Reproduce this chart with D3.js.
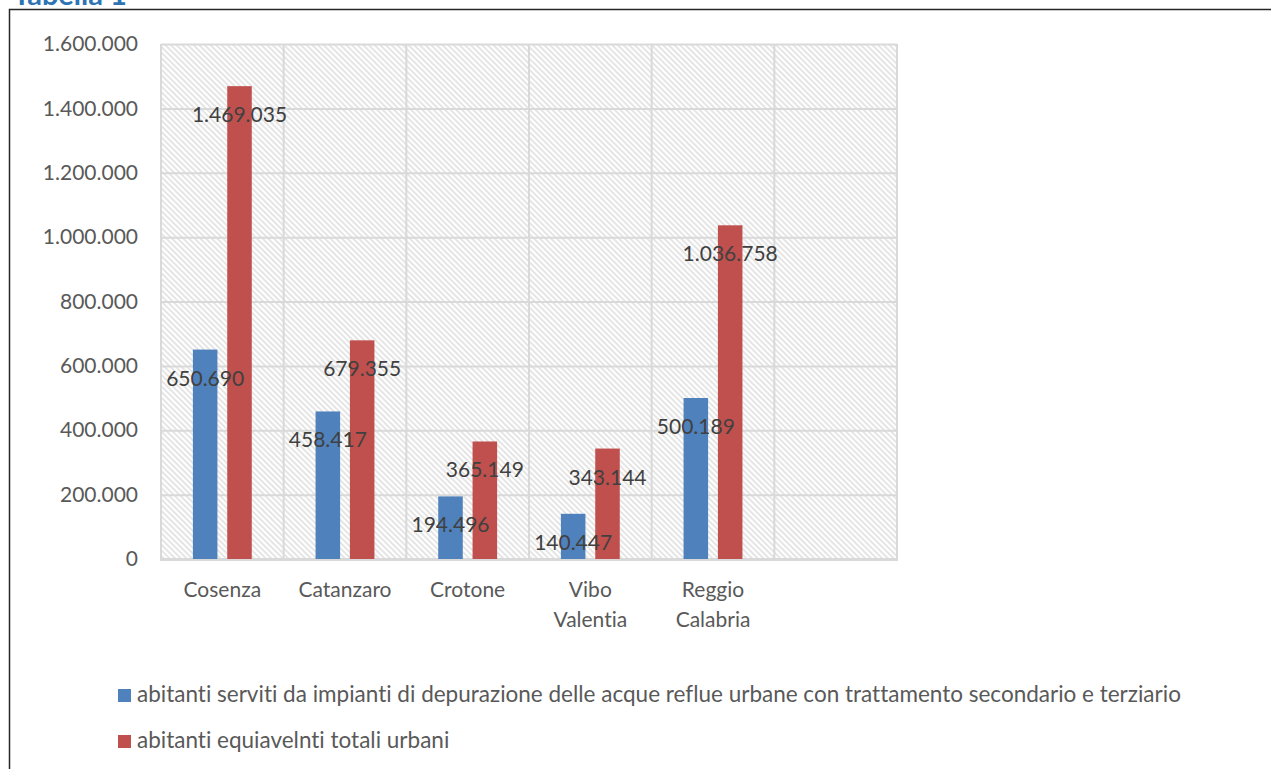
<!DOCTYPE html>
<html>
<head>
<meta charset="utf-8">
<script src="https://cdn.jsdelivr.net/npm/d3@7"></script>
<style>
  body { margin: 0; background: #fff; }
  text { font-family: Lato, "Open Sans", sans-serif; font-variant-ligatures: none; }
</style>
</head>
<body>
<div id="chart"></div>
<script>
// Data
const categories = ["Cosenza", "Catanzaro", "Crotone", "Vibo Valentia", "Reggio Calabria", ""];
const seriesNames = [
    "abitanti serviti da impianti di depurazione delle acque reflue urbane con trattamento secondario e terziario",
    "abitanti equiavelnti totali urbani"
];
const served = [650690, 458417, 194496, 140447, 500189, null];
const totals = [1469035, 679355, 365149, 343144, 1036758, null];
const yTicks = [0, 200000, 400000, 600000, 800000, 1000000, 1200000, 1400000, 1600000];

const W = 1271, H = 769;
const colors = ["#4F81BD", "#C0504D"];
const plot = { left: 161, right: 897, top: 44, bottom: 559 };

const it = d3.formatLocale({ decimal: ",", thousands: ".", grouping: [3], currency: ["", "€"] });
const fmt = it.format(",");

const svg = d3.select("#chart").append("svg")
    .attr("width", W)
    .attr("height", H);

// hatch pattern for the plot area
const defs = svg.append("defs");
defs.append("pattern")
    .attr("id", "hatch")
    .attr("patternUnits", "userSpaceOnUse")
    .attr("width", 4)
    .attr("height", 4)
    .attr("patternTransform", "rotate(-45)")
    .append("line")
    .attr("x1", 1).attr("y1", 0)
    .attr("x2", 1).attr("y2", 4)
    .attr("stroke", "#dcdcdc")
    .attr("stroke-width", 1.5);

// frame + title (cut off at the top, as in the source page)
svg.append("text")
    .attr("x", 13)
    .attr("y", 5)
    .attr("fill", "#2E74B5")
    .attr("font-weight", "bold")
    .attr("font-size", "29px")
    .text("Tabella 1");

svg.append("path")
    .attr("d", `M9.5,${H} V9.5 H${W}`)
    .attr("fill", "none")
    .attr("stroke", "#262626")
    .attr("stroke-width", 1.5);

// Scales
const x = d3.scaleBand()
    .domain(categories.map((d, i) => i))
    .range([plot.left, plot.right]);

const y = d3.scaleLinear()
    .domain([0, 1600000])
    .range([plot.bottom, plot.top]);

const barW = x.bandwidth() * 0.2;
const gap = x.bandwidth() * 0.08;
const groupW = barW * 2 + gap;
const inner = d3.scaleOrdinal()
    .domain([0, 1])
    .range([(x.bandwidth() - groupW) / 2, (x.bandwidth() - groupW) / 2 + barW + gap]);

// Plot background
svg.append("rect")
    .attr("x", plot.left)
    .attr("y", plot.top)
    .attr("width", plot.right - plot.left)
    .attr("height", plot.bottom - plot.top)
    .attr("fill", "url(#hatch)");

// Grid
svg.append("g")
    .attr("transform", `translate(${plot.left},0)`)
    .call(d3.axisLeft(y).tickValues(yTicks).tickSize(-(plot.right - plot.left)).tickFormat(""))
    .call(g => g.select(".domain").remove())
    .call(g => g.selectAll("line").attr("stroke", "#d9d9d9").attr("stroke-width", 2));

svg.append("g")
    .selectAll("line")
    .data(d3.range(categories.length + 1))
    .join("line")
    .attr("x1", i => i < categories.length ? x(i) : plot.right)
    .attr("x2", i => i < categories.length ? x(i) : plot.right)
    .attr("y1", plot.top)
    .attr("y2", plot.bottom)
    .attr("stroke", "#d9d9d9")
    .attr("stroke-width", 2);

// Y axis labels
svg.append("g")
    .attr("transform", `translate(${plot.left},0)`)
    .call(d3.axisLeft(y).tickValues(yTicks).tickSize(0).tickPadding(23).tickFormat(fmt))
    .call(g => g.select(".domain").remove())
    .call(g => g.selectAll("text")
        .attr("fill", "#595959")
        .attr("font-size", "21px")
        .attr("font-family", "Lato, sans-serif"));

// Bottom axis line
svg.append("line")
    .attr("x1", plot.left - 1)
    .attr("x2", plot.right + 1)
    .attr("y1", plot.bottom + 0.5)
    .attr("y2", plot.bottom + 0.5)
    .attr("stroke", "#d9d9d9")
    .attr("stroke-width", 3);

// Category labels
const catG = svg.append("g");
categories.forEach((c, i) => {
    const words = c.split(" ").filter(w => w);
    words.forEach((w, j) => {
        catG.append("text")
            .attr("x", x(i) + x.bandwidth() / 2)
            .attr("y", 597 + j * 30)
            .attr("text-anchor", "middle")
            .attr("fill", "#595959")
            .attr("font-size", "21px")
            .text(w);
    });
});

// Bars
const series = [served, totals];
series.forEach((vals, s) => {
    const data = vals.map((v, i) => ({ i, v })).filter(d => d.v != null);
    svg.append("g")
        .selectAll("rect")
        .data(data)
        .join("rect")
        .attr("x", d => x(d.i) + inner(s))
        .attr("y", d => y(d.v))
        .attr("width", barW)
        .attr("height", d => y(0) - y(d.v))
        .attr("fill", colors[s]);
});

// Value labels (inside end)
series.forEach((vals, s) => {
    const data = vals.map((v, i) => ({ i, v })).filter(d => d.v != null);
    svg.append("g")
        .selectAll("text")
        .data(data)
        .join("text")
        .attr("x", d => x(d.i) + inner(s) + barW / 2)
        .attr("y", d => y(d.v) + 36)
        .attr("text-anchor", "middle")
        .attr("fill", "#404040")
        .attr("font-size", "21px")
        .text(d => fmt(d.v));
});

// Legend
const legend = svg.append("g");
seriesNames.forEach((name, s) => {
    const ly = 689 + s * 46;
    legend.append("rect")
        .attr("x", 118)
        .attr("y", ly)
        .attr("width", 13)
        .attr("height", 13)
        .attr("fill", colors[s]);
    legend.append("text")
        .attr("x", 137)
        .attr("y", ly + 13)
        .attr("fill", "#595959")
        .attr("font-size", "22.5px")
        .text(name);
});
</script>
</body>
</html>
